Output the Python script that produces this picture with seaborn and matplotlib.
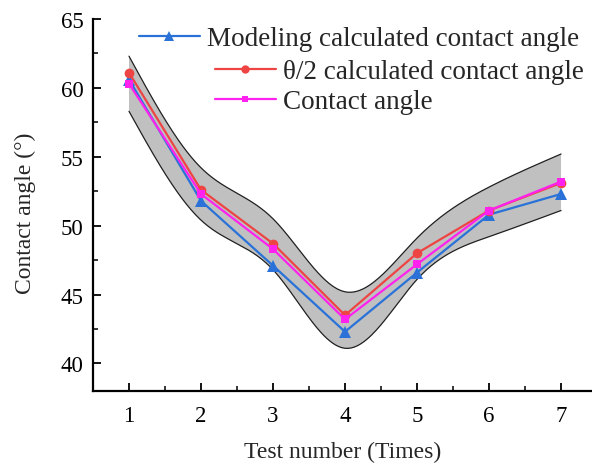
import numpy as np
import pandas as pd
import matplotlib
matplotlib.use("Agg")
import matplotlib.pyplot as plt
from matplotlib.lines import Line2D
from matplotlib.ticker import MultipleLocator
import seaborn as sns

# ---- data ----
test_number = [1, 2, 3, 4, 5, 6, 7]
modeling_angle = [60.6, 51.8, 47.1, 42.3, 46.6, 50.8, 52.3]
theta_half_angle = [61.1, 52.6, 48.7, 43.5, 48.0, 51.1, 53.1]
contact_angle = [60.3, 52.3, 48.3, 43.2, 47.2, 51.1, 53.2]
band_upper = [62.3, 54.2, 50.5, 45.2, 49.1, 52.8, 55.2]
band_lower = [58.3, 50.4, 46.8, 41.1, 46.1, 49.2, 51.1]
labels = ["Modeling calculated contact angle",
          "\u03b8/2 calculated contact angle",
          "Contact angle"]
x_ticks = [1, 2, 3, 4, 5, 6, 7]
y_ticks = [40, 45, 50, 55, 60, 65]

sns.set_style("ticks")
plt.rcParams['font.family'] = ['Liberation Serif', 'DejaVu Serif']


def natural_spline(xs, ys, num=300):
    xs = np.asarray(xs, float)
    ys = np.asarray(ys, float)
    n = len(xs)
    h = np.diff(xs)
    A = np.zeros((n, n))
    b = np.zeros(n)
    A[0, 0] = 1
    A[-1, -1] = 1
    for i in range(1, n - 1):
        A[i, i - 1] = h[i - 1]
        A[i, i] = 2 * (h[i - 1] + h[i])
        A[i, i + 1] = h[i]
        b[i] = 6 * ((ys[i + 1] - ys[i]) / h[i] - (ys[i] - ys[i - 1]) / h[i - 1])
    M = np.linalg.solve(A, b)
    xf = np.linspace(xs[0], xs[-1], num)
    yf = np.empty_like(xf)
    for k, xv in enumerate(xf):
        i = min(np.searchsorted(xs, xv, side='right') - 1, n - 2)
        t1 = xs[i + 1] - xv
        t0 = xv - xs[i]
        hi = h[i]
        yf[k] = (M[i] * t1 ** 3 / (6 * hi) + M[i + 1] * t0 ** 3 / (6 * hi)
                 + (ys[i] / hi - M[i] * hi / 6) * t1
                 + (ys[i + 1] / hi - M[i + 1] * hi / 6) * t0)
    return xf, yf


fig = plt.figure(figsize=(5.92, 4.64), dpi=100)
ax = fig.add_axes([93 / 592, 72 / 464, 499 / 592, 372 / 464])

xu, yu = natural_spline(test_number, band_upper)
xl, yl = natural_spline(test_number, band_lower)
ax.fill_between(xu, yl, yu, facecolor='#c0c0c0', edgecolor='none', zorder=1)
ax.plot(xu, yu, color='#202020', lw=0.9, zorder=2)
ax.plot(xl, yl, color='#202020', lw=0.9, zorder=2)

df = pd.DataFrame({"x": test_number, "m": modeling_angle,
                   "t": theta_half_angle, "c": contact_angle})
c_blue = '#2a72d8'
c_red = '#ee4444'
c_mag = '#ff22ee'
sns.lineplot(data=df, x="x", y="m", ax=ax, color=c_blue, marker='^',
             markersize=8, markeredgewidth=0, lw=1.6, zorder=3)
sns.lineplot(data=df, x="x", y="t", ax=ax, color=c_red, marker='o',
             markersize=7, markeredgewidth=0, lw=1.6, zorder=4)
sns.lineplot(data=df, x="x", y="c", ax=ax, color=c_mag, marker='s',
             markersize=6, markeredgewidth=0, lw=1.6, zorder=5)

ax.set_xlim(0.5, 7.43)
ax.set_ylim(38, 65)
ax.set_xticks(x_ticks)
ax.set_yticks(y_ticks)
ax.xaxis.set_minor_locator(MultipleLocator(0.5))
ax.yaxis.set_minor_locator(MultipleLocator(2.5))
ax.tick_params(axis='both', which='major', direction='in', length=6,
               width=1.3, labelsize=16.5, colors='black')
ax.tick_params(axis='x', which='major', pad=10)
ax.tick_params(axis='y', which='major', pad=7)
ax.tick_params(axis='both', which='minor', direction='in', length=3.5,
               width=1.3)
for s in ['top', 'right']:
    ax.spines[s].set_visible(False)
for s in ['left', 'bottom']:
    ax.spines[s].set_linewidth(1.6)
    ax.spines[s].set_color('black')

ax.set_xlabel("Test number (Times)", fontsize=17, labelpad=11)
ax.set_ylabel("Contact angle (\u00b0)", fontsize=17, labelpad=10)
ax.yaxis.set_label_coords(-0.114, 0.48)

h1 = Line2D([], [], color=c_blue, marker='^', markersize=7, markeredgewidth=0, lw=1.6)
h2 = Line2D([], [], color=c_red, marker='o', markersize=6, markeredgewidth=0, lw=1.6)
h3 = Line2D([], [], color=c_mag, marker='s', markersize=5, markeredgewidth=0, lw=1.6)

leg_kw = dict(loc='upper left', frameon=False, fontsize=19.5,
              handlelength=2.25, handletextpad=0.25, borderpad=0,
              borderaxespad=0, labelspacing=0.2)
fig.legend([h1], [labels[0]], bbox_to_anchor=(139 / 592, 1 - 27 / 464), **leg_kw)
fig.legend([h2, h3], labels[1:], bbox_to_anchor=(215 / 592, 1 - 60 / 464), **leg_kw)

fig.savefig("out.png", dpi=100)
